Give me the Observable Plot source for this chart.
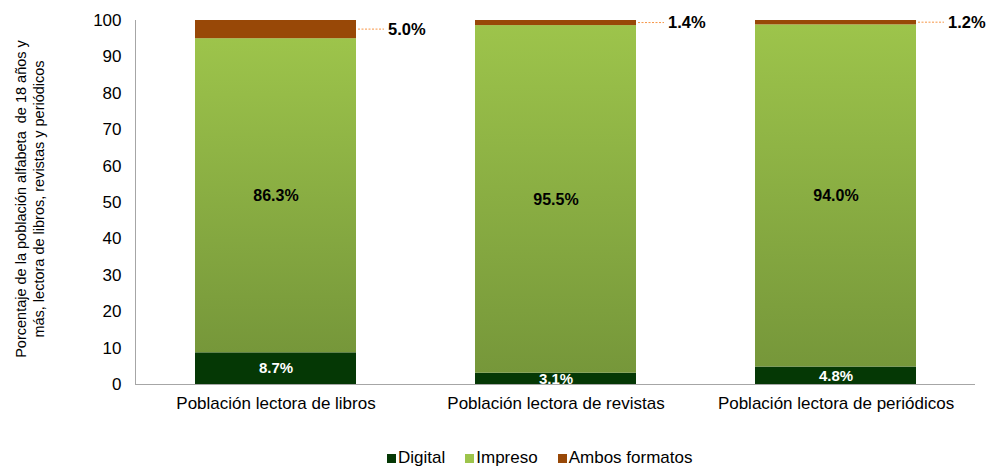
<!DOCTYPE html>
<html>
<head>
<meta charset="utf-8">
<script src="https://cdn.jsdelivr.net/npm/d3@7"></script>
<script src="https://cdn.jsdelivr.net/npm/@observablehq/plot@0.6"></script>
<style>
  html, body { margin: 0; padding: 0; background: #fff; }
  body { width: 986px; height: 466px; position: relative; font-family: "Liberation Sans", Arial, sans-serif; }
  #legend { position: absolute; left: 387px; top: 448px; display: flex; gap: 20px; font-size: 17px; color: #000; align-items: center; }
  #legend .item { display: flex; align-items: center; gap: 2px; }
  #legend .sw { width: 9px; height: 9px; display: inline-block; }
</style>
</head>
<body>
<div id="chart"></div>
<div id="legend"></div>
<script>
const categories = ["Población lectora de libros", "Población lectora de revistas", "Población lectora de periódicos"];
const series = ["Digital", "Impreso", "Ambos formatos"];
const digital = [8.7, 3.1, 4.8];
const impreso = [86.3, 95.5, 94.0];
const ambos = [5.0, 1.4, 1.2];
const yTicks = [0, 10, 20, 30, 40, 50, 60, 70, 80, 90, 100];
const yTitleLines = ["Porcentaje de la población alfabeta  de 18 años y", "más, lectora de libros, revistas y periódicos"];

const colorDigital = "#053805";
const colorAmbos = "#984807";
const impresoTop = "#9dc44b";
const impresoBottom = "#76973a";

const rows = categories.flatMap((c, i) => [
  {cat: c, series: "Digital", value: digital[i]},
  {cat: c, series: "Impreso", value: impreso[i]},
  {cat: c, series: "Ambos formatos", value: ambos[i]}
]);
const fmt = v => v.toFixed(1) + "%";
const digitalLabels = categories.map((c, i) => ({cat: c, y: digital[i] / 2, text: fmt(digital[i])}));
const impresoLabels = categories.map((c, i) => ({cat: c, y: digital[i] + impreso[i] / 2, text: fmt(impreso[i])}));
const ambosLabels = categories.map((c, i) => ({cat: c, y: digital[i] + impreso[i] + ambos[i] / 2, text: fmt(ambos[i])}));

const svgNS = "http://www.w3.org/2000/svg";
const padInner = 0.425;

function defsMark() {
  const defs = document.createElementNS(svgNS, "defs");
  defs.innerHTML = `<linearGradient id="impresoGrad" x1="0" y1="0" x2="0" y2="1">
      <stop offset="0" stop-color="${impresoTop}"/>
      <stop offset="1" stop-color="${impresoBottom}"/>
    </linearGradient>
    <filter id="shadow" x="-10%" y="-10%" width="130%" height="130%">
      <feDropShadow dx="2" dy="2" stdDeviation="1.5" flood-color="#000" flood-opacity="0.25"/>
    </filter>`;
  return defs;
}

function axisLines(index, scales, values, dimensions) {
  const g = document.createElementNS(svgNS, "g");
  const {marginLeft, marginTop, width, marginRight} = dimensions;
  const y0 = scales.y(0);
  g.innerHTML = `<line x1="${marginLeft + 0.5}" x2="${marginLeft + 0.5}" y1="${marginTop}" y2="${y0}" stroke="#a6a6a6"/>
    <line x1="${marginLeft}" x2="${width - marginRight}" y1="${y0 + 0.5}" y2="${y0 + 0.5}" stroke="#a6a6a6"/>`;
  return g;
}

function yTitleMark(index, scales, values, dimensions) {
  const g = document.createElementNS(svgNS, "g");
  const {marginTop, height, marginBottom} = dimensions;
  const cy = (marginTop + height - marginBottom) / 2 - 3;
  const cx = 31;
  const lh = 18;
  const n = yTitleLines.length;
  let s = `<text transform="translate(${cx},${cy}) rotate(-90)" text-anchor="middle" font-size="14.5" fill="#000" font-family="'Liberation Sans', Arial, sans-serif">`;
  yTitleLines.forEach((line, i) => {
    const dy = (i - (n - 1) / 2) * lh;
    s += `<tspan x="0" y="${dy}" dominant-baseline="middle" xml:space="preserve">${line}</tspan>`;
  });
  s += `</text>`;
  g.innerHTML = s;
  return g;
}

function bandwidthOf(scales) {
  let bw = scales.x.bandwidth;
  if (typeof bw === "function") bw = bw();
  if (!(bw > 0) && scales.scales && scales.scales.x) bw = scales.scales.x.bandwidth;
  if (!(bw > 0)) bw = (scales.x(categories[1]) - scales.x(categories[0])) * (1 - padInner);
  return bw;
}

function leaders(index, scales) {
  const g = document.createElementNS(svgNS, "g");
  const bw = bandwidthOf(scales);
  let s = "";
  for (const d of ambosLabels) {
    const xr = scales.x(d.cat) + bw;
    const y = scales.y(d.y);
    s += `<line x1="${xr + 2}" x2="${xr + 28}" y1="${y}" y2="${y}" stroke="#f79646" stroke-width="1" stroke-dasharray="2,1.5"/>`;
  }
  g.innerHTML = s;
  return g;
}

const chart = Plot.plot({
  width: 986,
  height: 430,
  marginTop: 20,
  marginBottom: 46,
  marginLeft: 135,
  marginRight: 11,
  style: {fontFamily: "'Liberation Sans', Arial, sans-serif", fontSize: "17px", color: "#000", background: "#fff"},
  x: {domain: categories, paddingInner: padInner, paddingOuter: padInner / 2, align: 0.5, label: null, tickSize: 0, tickPadding: 12},
  y: {domain: [0, 100], ticks: yTicks, tickFormat: d => String(d), label: null, tickSize: 0, tickPadding: 14},
  color: {domain: series, range: [colorDigital, "url(#impresoGrad)", colorAmbos]},
  marks: [
    defsMark,
    axisLines,
    yTitleMark,
    Plot.barY(rows, {x: "cat", y: "value", fill: "series", style: {filter: "url(#shadow)"}}),
    leaders,
    Plot.text(digitalLabels, {x: "cat", y: "y", text: "text", fill: "#fff", fontWeight: "bold", fontSize: 15}),
    Plot.text(impresoLabels, {x: "cat", y: "y", text: "text", fill: "#000", fontWeight: "bold", fontSize: 16}),
    Plot.text(ambosLabels, {x: "cat", y: "y", text: "text", fill: "#000", fontWeight: "bold", fontSize: 16.5, textAnchor: "start", dx: 112})
  ]
});
document.getElementById("chart").appendChild(chart);

const legendColors = [colorDigital, impresoTop, colorAmbos];
const legend = document.getElementById("legend");
series.forEach((s, i) => {
  const item = document.createElement("div");
  item.className = "item";
  const sw = document.createElement("span");
  sw.className = "sw";
  sw.style.background = legendColors[i];
  const t = document.createElement("span");
  t.textContent = s;
  item.appendChild(sw);
  item.appendChild(t);
  legend.appendChild(item);
});
</script>
</body>
</html>
